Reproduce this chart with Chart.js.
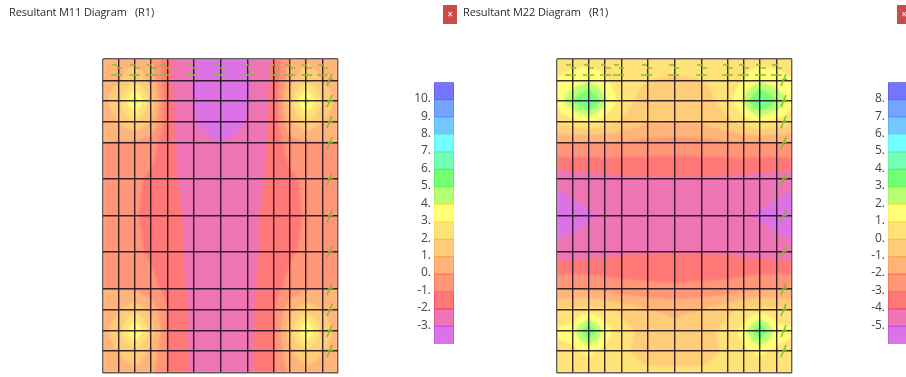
<!DOCTYPE html>
<html>
<head>
<meta charset="utf-8">
<script src="https://cdn.jsdelivr.net/npm/chart.js@4"></script>
<style>
  html, body { margin: 0; padding: 0; background: #fff; overflow: hidden; width: 906px; height: 377px; }
  #page { position: absolute; left: 0; top: 0; width: 906px; height: 377px; overflow: hidden; filter: blur(0.45px); }
  canvas { position: absolute; }
  .title { position: absolute; top: 3px; font: 11px "Open Sans", sans-serif; letter-spacing: -0.12px; color: #2c2c2c; white-space: pre; line-height: 18px; }
  .close { position: absolute; top: 5px; width: 14px; height: 19px; background: #cb4a4a; color: #fff; font: 10px/19px "Open Sans", sans-serif; text-align: center; }
</style>
</head>
<body>
<div id="page">
  <div class="title" style="left:9px">Resultant M11 Diagram   (R1)</div>
  <div class="close" style="left:443px">×</div>
  <div class="title" style="left:463px">Resultant M22 Diagram   (R1)</div>
  <div class="close" style="left:897px">×</div>
  <canvas id="plate11" width="255" height="334" style="left:93px;top:49px"></canvas>
  <canvas id="legend11" width="60" height="282" style="left:400px;top:72px"></canvas>
  <canvas id="plate22" width="255" height="334" style="left:547px;top:49px"></canvas>
  <canvas id="legend22" width="70" height="282" style="left:854px;top:72px"></canvas>
</div>
<script>
// mesh lines of the plate
var meshX = [0, 16, 32, 48, 65, 91, 118, 145, 171, 187, 203, 220, 235];
var meshY = [0, 22, 42, 63, 84, 120, 157, 193, 230, 251, 272, 292, 314];

// support symbols
var topMarkX = [14, 32, 49, 62, 90, 117, 145, 171, 187, 204, 220];
var sideMarkY = [21, 42, 63, 84, 120, 157, 193, 230, 251, 272, 292];

// resultant at the mesh nodes (rows top to bottom)
var m11Values = [
  [0.5, 0.6, 0.7, 0.0, -1.8, -3.05, -3.6, -3.05, -1.8, 0.0, 0.7, 0.6, 0.5],
  [0.6, 0.9, 1.9, 0.7, -1.8, -3.1, -3.6, -3.1, -1.8, 0.7, 1.9, 0.9, 0.6],
  [0.7, 1.8, 4.4, 1.6, -1.7, -3.05, -3.6, -3.05, -1.7, 1.6, 4.4, 1.8, 0.7],
  [0.4, 1.0, 1.9, 0.9, -1.7, -2.95, -3.5, -2.95, -1.7, 0.9, 1.9, 1.0, 0.4],
  [0.0, -0.1, -0.2, -0.5, -1.7, -2.7, -3.0, -2.7, -1.7, -0.5, -0.2, -0.1, 0.0],
  [-0.5, -0.6, -0.8, -1.2, -1.7, -2.5, -2.7, -2.5, -1.7, -1.2, -0.8, -0.6, -0.5],
  [-0.6, -0.7, -0.9, -1.3, -1.6, -2.3, -2.6, -2.3, -1.6, -1.3, -0.9, -0.7, -0.6],
  [-0.5, -0.6, -0.8, -1.15, -1.6, -2.3, -2.6, -2.3, -1.6, -1.15, -0.8, -0.6, -0.5],
  [0.0, 0.0, -0.1, -0.7, -1.3, -2.3, -2.6, -2.3, -1.3, -0.7, -0.1, 0.0, 0.0],
  [0.4, 0.9, 1.7, 0.7, -1.1, -2.3, -2.6, -2.3, -1.1, 0.7, 1.7, 0.9, 0.4],
  [0.6, 1.7, 4.2, 1.6, -1.1, -2.3, -2.6, -2.3, -1.1, 1.6, 4.2, 1.7, 0.6],
  [0.6, 1.0, 1.8, 0.8, -1.1, -2.2, -2.5, -2.2, -1.1, 0.8, 1.8, 1.0, 0.6],
  [0.5, 0.6, 0.6, 0.2, -1.1, -2.2, -2.5, -2.2, -1.1, 0.2, 0.6, 0.6, 0.5]
];
var m22Values = [
  [0.5, 0.6, 0.6, 0.6, 0.5, 0.5, 0.5, 0.5, 0.5, 0.6, 0.6, 0.6, 0.5],
  [1.1, 1.4, 1.8, 1.1, 0.4, 0.0, -0.2, 0.0, 0.4, 1.1, 1.8, 1.4, 1.1],
  [1.3, 3.0, 4.7, 2.2, 0.5, -0.5, -0.8, -0.5, 0.5, 2.2, 4.7, 3.0, 1.3],
  [0.3, 0.6, 1.0, 0.5, -0.2, -0.9, -1.0, -0.9, -0.2, 0.5, 1.0, 0.6, 0.3],
  [-2.0, -2.0, -2.1, -2.1, -2.2, -2.3, -2.4, -2.3, -2.2, -2.1, -2.1, -2.0, -2.0],
  [-4.7, -4.5, -4.4, -4.3, -4.2, -4.15, -4.1, -4.15, -4.2, -4.3, -4.4, -4.5, -4.7],
  [-5.7, -5.4, -5.1, -4.9, -4.6, -4.3, -4.3, -4.3, -4.6, -4.9, -5.1, -5.4, -5.7],
  [-4.6, -4.5, -4.4, -4.3, -4.1, -4.05, -4.0, -4.05, -4.1, -4.3, -4.4, -4.5, -4.6],
  [-2.0, -2.0, -2.1, -2.3, -2.6, -2.7, -2.8, -2.7, -2.6, -2.3, -2.1, -2.0, -2.0],
  [0.1, 0.2, 0.4, 0.2, -0.2, -1.0, -1.2, -1.0, -0.2, 0.2, 0.4, 0.2, 0.1],
  [1.2, 1.5, 4.2, 1.5, 0.3, -0.3, -0.7, -0.3, 0.3, 1.5, 4.2, 1.5, 1.2],
  [0.6, 0.8, 1.2, 0.8, 0.2, -0.4, -0.4, -0.4, 0.2, 0.8, 1.2, 0.8, 0.6],
  [0.5, 0.5, 0.5, 0.4, 0.4, 0.2, 0.2, 0.2, 0.4, 0.4, 0.5, 0.5, 0.5]
];

// legend scales
var m11Ticks = [10, 9, 8, 7, 6, 5, 4, 3, 2, 1, 0, -1, -2, -3];
var m22Ticks = [8, 7, 6, 5, 4, 3, 2, 1, 0, -1, -2, -3, -4, -5];

// contour colours, lowest band first
var bandColors = ['#dc72e6', '#ee74b4', '#ff7878', '#ff9678', '#ffb47a', '#ffcd78', '#ffe278', '#ffff78',
                  '#b8ff74', '#74ff74', '#74ffb4', '#74ffff', '#74c8ff', '#74a4ff', '#7474ff'];
var bandEdges = ['#c050e0', '#d84c98', '#f04858', '#f87050', '#fa9a50', '#fab850', '#ffd050', '#ffee50',
                 '#a0f050', '#50f060', '#60f0a0', '#50f0f0', '#50b0f0', '#5088f0', '#5858e8'];

function hexToRgb(h) {
  return [parseInt(h.substr(1, 2), 16), parseInt(h.substr(3, 2), 16), parseInt(h.substr(5, 2), 16)];
}
var bandRgb = bandColors.map(hexToRgb);

function findCell(mesh, v) {
  for (var i = 0; i < mesh.length - 2; i++) {
    if (v < mesh[i + 1]) return i;
  }
  return mesh.length - 2;
}

// paints the filled contours under the grid lines
var contourPlugin = {
  id: 'contour',
  beforeDraw: function(chart, args, opts) {
    var area = chart.chartArea;
    var xs = chart.scales.x, ys = chart.scales.y;
    var w = Math.round(area.right - area.left), h = Math.round(area.bottom - area.top);
    var nodes = chart.data.datasets[0].data;
    var off = document.createElement('canvas');
    off.width = w; off.height = h;
    var octx = off.getContext('2d');
    var img = octx.createImageData(w, h);
    for (var py = 0; py < h; py++) {
      var vy = ys.getValueForPixel(area.top + py + 0.5);
      var r = findCell(meshY, vy);
      var ty = (vy - meshY[r]) / (meshY[r + 1] - meshY[r]);
      for (var px = 0; px < w; px++) {
        var vx = xs.getValueForPixel(area.left + px + 0.5);
        var c = findCell(meshX, vx);
        var tx = (vx - meshX[c]) / (meshX[c + 1] - meshX[c]);
        var n = meshX.length;
        var v = (nodes[r * n + c].v * (1 - tx) + nodes[r * n + c + 1].v * tx) * (1 - ty) +
                (nodes[(r + 1) * n + c].v * (1 - tx) + nodes[(r + 1) * n + c + 1].v * tx) * ty;
        var b = Math.floor(v - opts.lowest) + 1;
        b = Math.max(0, Math.min(bandRgb.length - 1, b));
        var k = (py * w + px) * 4;
        img.data[k] = bandRgb[b][0];
        img.data[k + 1] = bandRgb[b][1];
        img.data[k + 2] = bandRgb[b][2];
        img.data[k + 3] = 255;
      }
    }
    octx.putImageData(img, 0, 0);
    var ctx = chart.ctx;
    ctx.save();
    ctx.beginPath();
    ctx.rect(area.left, area.top, w, h);
    ctx.clip();
    ctx.filter = 'blur(0.8px)';
    ctx.drawImage(off, area.left, area.top);
    ctx.restore();
  }
};

// support symbols drawn as point styles
function topSymbol() {
  var s = document.createElement('canvas');
  s.width = 18; s.height = 16;
  var c = s.getContext('2d');
  c.strokeStyle = '#86c02c';
  c.lineWidth = 1.3;
  c.beginPath();
  c.moveTo(4, 3); c.lineTo(9, 3);
  c.moveTo(9, 6); c.lineTo(14, 6);
  c.moveTo(3, 13); c.lineTo(14, 13);
  c.stroke();
  return s;
}
function sideSymbol() {
  var s = document.createElement('canvas');
  s.width = 12; s.height = 14;
  var c = s.getContext('2d');
  c.strokeStyle = 'rgba(120,185,40,0.9)';
  c.lineWidth = 1.5;
  c.beginPath();
  c.moveTo(3, 13); c.lineTo(8, 1);
  c.moveTo(4, 7); c.lineTo(9, 6);
  c.stroke();
  return s;
}

function makePlate(id, values, lowest) {
  var nodes = [];
  values.forEach(function(row, r) {
    row.forEach(function(v, c) { nodes.push({ x: meshX[c], y: meshY[r], v: v }); });
  });
  var gridColor = function(ctx) {
    var last = ctx.index === 0 || ctx.index === meshX.length - 1;
    return last ? 'rgba(95,85,85,0.95)' : 'rgba(30,15,30,0.88)';
  };
  new Chart(document.getElementById(id), {
    type: 'scatter',
    data: {
      datasets: [
        { label: 'nodes', data: nodes, pointRadius: 0, showLine: false },
        { label: 'top supports', data: topMarkX.map(function(x) { return { x: x, y: 11 }; }),
          pointStyle: topSymbol(), pointRadius: 8 },
        { label: 'side supports', data: sideMarkY.map(function(y) { return { x: 227, y: y }; }),
          pointStyle: sideSymbol(), pointRadius: 7 }
      ]
    },
    options: {
      responsive: false,
      animation: false,
      layout: { padding: { left: 10, right: 10, top: 10, bottom: 10 } },
      plugins: { legend: { display: false }, tooltip: { enabled: false }, contour: { lowest: lowest } },
      scales: {
        x: {
          type: 'linear', min: 0, max: 235,
          afterBuildTicks: function(a) { a.ticks = meshX.map(function(v) { return { value: v }; }); },
          ticks: { display: false },
          grid: { color: gridColor, lineWidth: 1.4, drawTicks: false },
          border: { display: false }
        },
        y: {
          type: 'linear', min: 0, max: 314, reverse: true,
          afterBuildTicks: function(a) { a.ticks = meshY.map(function(v) { return { value: v }; }); },
          ticks: { display: false },
          grid: { color: gridColor, lineWidth: 1.4, drawTicks: false },
          border: { display: false }
        }
      }
    },
    plugins: [contourPlugin]
  });
}

function makeLegend(id, ticks, rightPad) {
  var lowest = ticks[ticks.length - 1];
  var datasets = bandColors.map(function(col, i) {
    return {
      data: [[lowest - 1 + i, lowest + i]],
      backgroundColor: col,
      borderColor: bandEdges[i],
      borderWidth: 1,
      borderSkipped: false
    };
  });
  new Chart(document.getElementById(id), {
    type: 'bar',
    data: { labels: [''], datasets: datasets },
    options: {
      responsive: false,
      animation: false,
      layout: { padding: { top: 10, bottom: 10, right: rightPad } },
      plugins: { legend: { display: false }, tooltip: { enabled: false } },
      scales: {
        x: { stacked: true, display: false },
        y: {
          min: lowest - 1, max: ticks[0] + 1,
          afterFit: function(a) { a.width = 34; },
          afterBuildTicks: function(a) { a.ticks = ticks.map(function(v) { return { value: v }; }); },
          ticks: {
            autoSkip: false,
            color: '#444',
            padding: 3,
            labelOffset: -1,
            font: { family: '"Open Sans", sans-serif', size: 12 },
            callback: function(v) { return v + '.'; }
          },
          grid: { display: false, drawTicks: false },
          border: { display: false }
        }
      },
      datasets: { bar: { barPercentage: 1, categoryPercentage: 1 } }
    }
  });
}

makePlate('plate11', m11Values, -3);
makeLegend('legend11', m11Ticks, 6);
makePlate('plate22', m22Values, -5);
makeLegend('legend22', m22Ticks, 16);
</script>
</body>
</html>
